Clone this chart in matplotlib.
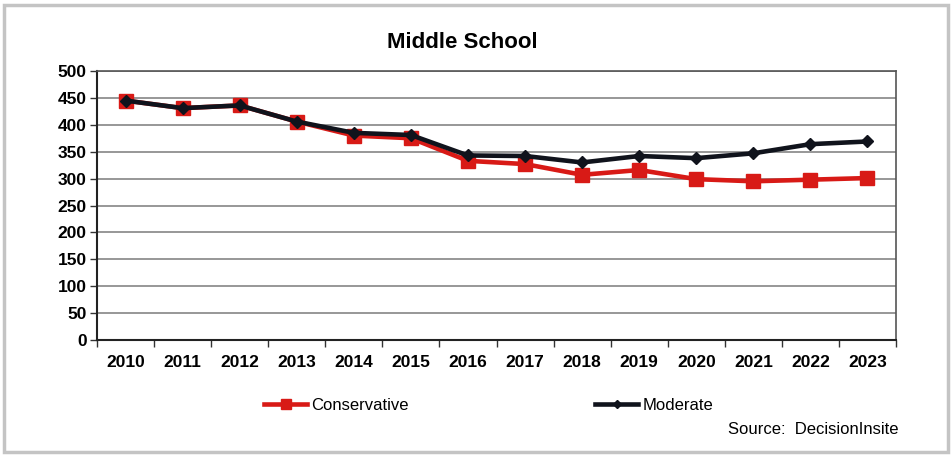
import numpy as np
import matplotlib.pyplot as plt
from matplotlib.patches import Rectangle
from matplotlib.lines import Line2D

plt.rcParams['font.family'] = ['Liberation Sans', 'DejaVu Sans']

years = ['2010', '2011', '2012', '2013', '2014', '2015', '2016',
         '2017', '2018', '2019', '2020', '2021', '2022', '2023']
conservative = [445, 431, 436, 406, 380, 375, 333, 327, 307, 316, 299, 295, 298, 301]
moderate = [445, 431, 436, 406, 385, 381, 343, 342, 330, 342, 338, 347, 364, 369]
yticks = [0, 50, 100, 150, 200, 250, 300, 350, 400, 450, 500]

red = '#d81a16'
dark = '#10131c'

fig = plt.figure(figsize=(9.52, 4.57), dpi=100)
fig.patches.append(Rectangle((4 / 952, 5 / 457), 944 / 952, 447 / 457,
                             transform=fig.transFigure, fill=False,
                             edgecolor='#c4c4c4', linewidth=2.5))

ax = fig.add_axes([97 / 952, 1 - 340 / 457, 799 / 952, 269 / 457])
x = np.arange(len(years))

ax.plot(x, conservative, color=red, lw=3.3, marker='s', ms=9.5,
        mfc=red, mec=red, zorder=3)
ax.plot(x, moderate, color=dark, lw=3.3, marker='D', ms=6.5,
        mfc=dark, mec=dark, zorder=4)

ax.set_xlim(-0.5, len(years) - 0.5)
ax.set_ylim(0, 500)
ax.set_yticks(yticks)
ax.set_yticklabels([str(v) for v in yticks], fontsize=12.5, fontweight='bold')
ax.set_xticks(x)
ax.set_xticklabels(years, fontsize=12.5, fontweight='bold')
ax.set_xticks(np.arange(-0.5, len(years), 1.0), minor=True)
ax.tick_params(axis='x', which='major', length=0, pad=11)
ax.tick_params(axis='x', which='minor', length=5, width=1, color='#333333', direction='out')
ax.tick_params(axis='y', length=5, width=1, color='#333333', pad=2.5)
ax.grid(axis='y', color='#7a7a7a', lw=1.1)
ax.set_axisbelow(True)
for side in ['top', 'right']:
    ax.spines[side].set_color('#555555')
    ax.spines[side].set_linewidth(1.2)
for side in ['left', 'bottom']:
    ax.spines[side].set_color('#222222')
    ax.spines[side].set_linewidth(1.5)

fig.text(462 / 952, 1 - 43 / 457, 'Middle School', ha='center', va='center',
         fontsize=16, fontweight='bold')

h1 = Line2D([], [], color=red, lw=3.3, marker='s', ms=7, mfc=red, mec=red)
h2 = Line2D([], [], color=dark, lw=3.3, marker='D', ms=4.5, mfc=dark, mec=dark)
leg1 = fig.legend([h1], ['Conservative'], loc='center left',
                  bbox_to_anchor=(264 / 952, 1 - 405 / 457), frameon=False,
                  fontsize=12, handlelength=2.6, handletextpad=0.25,
                  borderaxespad=0, borderpad=0)
leg2 = fig.legend([h2], ['Moderate'], loc='center left',
                  bbox_to_anchor=(595 / 952, 1 - 405 / 457), frameon=False,
                  fontsize=12, handlelength=2.6, handletextpad=0.25,
                  borderaxespad=0, borderpad=0)

fig.text(899 / 952, 1 - 430 / 457, 'Source:  DecisionInsite', ha='right',
         va='center', fontsize=12)

fig.savefig('out.png', dpi=100)
